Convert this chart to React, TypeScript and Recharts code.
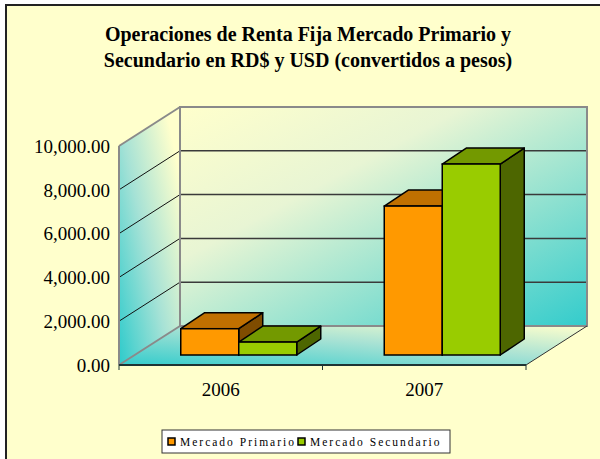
import React from 'react';
import * as R from 'recharts';

const { BarChart, Bar, XAxis, YAxis, CartesianGrid } = R as any;

// ---------- data ----------
const categories = ['2006', '2007'];
const mercadoPrimario = [1200, 6800];
const mercadoSecundario = [590, 8720];
const yTicks = [0, 2000, 4000, 6000, 8000, 10000];
const seriesNames = ['Mercado Primario', 'Mercado Secundario'];
const titleLines = [
  'Operaciones de Renta Fija Mercado Primario y',
  'Secundario en RD$ y USD (convertidos a pesos)',
];

const data = categories.map((c, i) => ({
  year: c,
  primario: mercadoPrimario[i],
  secundario: mercadoSecundario[i],
}));

// ---------- layout / style ----------
const W = 600;
const H = 459;
const MARGIN = { top: 146, right: 74, bottom: 0, left: 0 };
const Y_AXIS_W = 119;
const X_AXIS_H = 94;
const FALLBACK_PLOT = {
  x: MARGIN.left + Y_AXIS_W,
  y: MARGIN.top,
  width: W - MARGIN.left - Y_AXIS_W - MARGIN.right,
  height: H - MARGIN.top - X_AXIS_H - MARGIN.bottom,
};
const DEPTH = { dx: 61, dy: -39 };
const BAR_OFF = { dx: 18, dy: -10 };
const BAR_DEPTH = { dx: 24, dy: -16 };
const FONT = '"Liberation Serif", "Times New Roman", serif';
const BG = '#FFFFCC';
const TEAL = '#33CCCC';
const LIGHT = '#FFFFCC';
const COLORS = {
  primario: { front: '#FF9900', top: '#C07000', side: '#7F4C00' },
  secundario: { front: '#99CC00', top: '#739900', side: '#4D6600' },
};

function usePlot() {
  const hook = (R as any).usePlotArea;
  const pa = hook ? hook() : null;
  if (pa && typeof pa.x === 'number') return pa;
  return FALLBACK_PLOT;
}

function Title() {
  return (
    <g>
      {titleLines.map((t, i) => (
        <text
          key={i}
          x={308}
          y={41 + i * 26}
          textAnchor="middle"
          fontFamily={FONT}
          fontWeight="bold"
          fontSize={20}
          fill="#000"
        >
          {t}
        </text>
      ))}
    </g>
  );
}

function Walls() {
  const p = usePlot();
  const L = p.x, T = p.y, Rr = p.x + p.width, B = p.y + p.height;
  const { dx, dy } = DEPTH;
  return (
    <g>
      <defs>
        <linearGradient id="backWall" x1="0" y1="0" x2="1" y2="1">
          <stop offset="0" stopColor={LIGHT} />
          <stop offset="0.35" stopColor="#E8F5D4" />
          <stop offset="1" stopColor={TEAL} />
        </linearGradient>
        <linearGradient id="sideWall" x1="0" y1="0.95" x2="0.9" y2="0.15">
          <stop offset="0" stopColor={TEAL} />
          <stop offset="0.5" stopColor="#A6E2D6" />
          <stop offset="1" stopColor={LIGHT} />
        </linearGradient>
        <linearGradient id="floorG" x1="0" y1="1" x2="1" y2="0">
          <stop offset="0" stopColor={TEAL} />
          <stop offset="0.55" stopColor="#A8E2D4" />
          <stop offset="1" stopColor={LIGHT} />
        </linearGradient>
      </defs>
      <rect x={L + dx} y={T + dy} width={Rr - L} height={B - T} fill="url(#backWall)" />
      <polygon
        points={`${L},${T} ${L + dx},${T + dy} ${L + dx},${B + dy} ${L},${B}`}
        fill="url(#sideWall)"
      />
      <polygon
        points={`${L},${B} ${Rr},${B} ${Rr + dx},${B + dy} ${L + dx},${B + dy}`}
        fill="url(#floorG)"
      />
    </g>
  );
}

function WallEdges() {
  const p = usePlot();
  const L = p.x, T = p.y, Rr = p.x + p.width, B = p.y + p.height;
  const { dx, dy } = DEPTH;
  const n = categories.length;
  const gray = '#8A8A8A';
  return (
    <g>
      <rect x={L + dx} y={T + dy} width={Rr - L} height={B - T} fill="none" stroke={gray} strokeWidth={2} />
      <line x1={L} y1={T} x2={L + dx} y2={T + dy} stroke={gray} strokeWidth={2} />
      <line x1={L} y1={T} x2={L} y2={B} stroke={gray} strokeWidth={2} />
      <line x1={L} y1={B} x2={L + dx} y2={B + dy} stroke={gray} strokeWidth={2} />
      <line x1={Rr} y1={B} x2={Rr + dx} y2={B + dy} stroke="#333" strokeWidth={1} />
      <line x1={L} y1={B} x2={Rr} y2={B} stroke="#1E3434" strokeWidth={2} />
      {Array.from({ length: n + 1 }).map((_, i) => {
        const x = L + (i * (Rr - L)) / n;
        return <line key={i} x1={x} y1={B} x2={x} y2={B + 5} stroke="#1E3434" strokeWidth={1} />;
      })}
    </g>
  );
}

function GridLine3D(props: any) {
  const p = usePlot();
  const { x1, x2, y1, index } = props;
  const T = p.y, B = p.y + p.height;
  const { dx, dy } = DEPTH;
  const skip = Math.abs(y1 - T) < 1 || Math.abs(y1 - B) < 1;
  return (
    <g>
      {index === 0 ? <Walls /> : null}
      {skip ? null : (
        <g>
          <line x1={x1} y1={y1} x2={x1 + dx} y2={y1 + dy} stroke="#111" strokeWidth={1} />
          <line x1={x1 + dx} y1={y1 + dy} x2={x2 + dx} y2={y1 + dy} stroke="#3A3A3A" strokeWidth={1.5} />
        </g>
      )}
    </g>
  );
}

function Box3D(props: any) {
  const { x, y, width, height, colors } = props;
  if (width == null || height == null) return null;
  const fx = x + BAR_OFF.dx;
  const fy = y + BAR_OFF.dy;
  const w = width;
  const h = height;
  const { dx, dy } = BAR_DEPTH;
  const sw = 1.5;
  return (
    <g>
      <polygon
        points={`${fx + w},${fy} ${fx + w + dx},${fy + dy} ${fx + w + dx},${fy + h + dy} ${fx + w},${fy + h}`}
        fill={colors.side}
        stroke="#000"
        strokeWidth={sw}
        strokeLinejoin="round"
      />
      <polygon
        points={`${fx},${fy} ${fx + w},${fy} ${fx + w + dx},${fy + dy} ${fx + dx},${fy + dy}`}
        fill={colors.top}
        stroke="#000"
        strokeWidth={sw}
        strokeLinejoin="round"
      />
      <rect x={fx} y={fy} width={w} height={h} fill={colors.front} stroke="#000" strokeWidth={sw} />
    </g>
  );
}

function LegendBox() {
  const x = 162, y = 430, w = 288, h = 23;
  const items = [
    { name: seriesNames[0], color: COLORS.primario.front, sx: 168, tx: 180 },
    { name: seriesNames[1], color: COLORS.secundario.front, sx: 298, tx: 310 },
  ];
  return (
    <g>
      <rect x={x} y={y} width={w} height={h} fill="#FFFFFF" stroke="#333" strokeWidth={1} />
      {items.map((it, i) => (
        <g key={i}>
          <rect x={it.sx} y={y + 8} width={7} height={7} fill={it.color} stroke="#000" strokeWidth={1.5} />
          <text
            x={it.tx}
            y={y + 16}
            fontFamily={FONT}
            fontSize={11.5}
            letterSpacing={2}
            fill="#000"
          >
            {it.name}
          </text>
        </g>
      ))}
    </g>
  );
}

const fmt = (v: number) =>
  v.toLocaleString('en-US', { minimumFractionDigits: 2, maximumFractionDigits: 2 });

export default function App() {
  return (
    <div
      style={{
        position: 'absolute',
        left: 0,
        top: 0,
        width: W,
        height: H,
        background: '#fff',
        overflow: 'hidden',
      }}
    >
      <div
        style={{
          position: 'absolute',
          left: 5,
          top: 4,
          width: W + 20,
          height: H + 20,
          background: BG,
          borderLeft: '2px solid #222',
          borderTop: '2px solid #222',
        }}
      />
      <div style={{ position: 'absolute', left: 0, top: 0 }}>
        <BarChart
          width={W}
          height={H}
          data={data}
          margin={MARGIN}
          barCategoryGap={43.75}
          barGap={0}
        >
          <Title />
          <CartesianGrid
            vertical={false}
            horizontal={(p: any) => <GridLine3D key={`g-${p.index}-${p.y1}`} {...p} />}
          />
          <WallEdges />
          <XAxis
            dataKey="year"
            height={X_AXIS_H}
            axisLine={false}
            tickLine={false}
            tickSize={0}
            tickMargin={18}
            interval={0}
            tick={{ fontSize: 19, fill: '#000', fontFamily: FONT }}
          />
          <YAxis
            width={Y_AXIS_W}
            domain={[0, 10000]}
            ticks={yTicks}
            interval={0}
            axisLine={false}
            tickLine={false}
            tickSize={0}
            tickMargin={9}
            tickFormatter={fmt}
            tick={{ fontSize: 19, fill: '#000', fontFamily: FONT }}
          />
          <Bar
            dataKey="primario"
            name={seriesNames[0]}
            isAnimationActive={false}
            shape={(p: any) => <Box3D {...p} colors={COLORS.primario} />}
          />
          <Bar
            dataKey="secundario"
            name={seriesNames[1]}
            isAnimationActive={false}
            shape={(p: any) => <Box3D {...p} colors={COLORS.secundario} />}
          />
          <LegendBox />
        </BarChart>
      </div>
    </div>
  );
}
